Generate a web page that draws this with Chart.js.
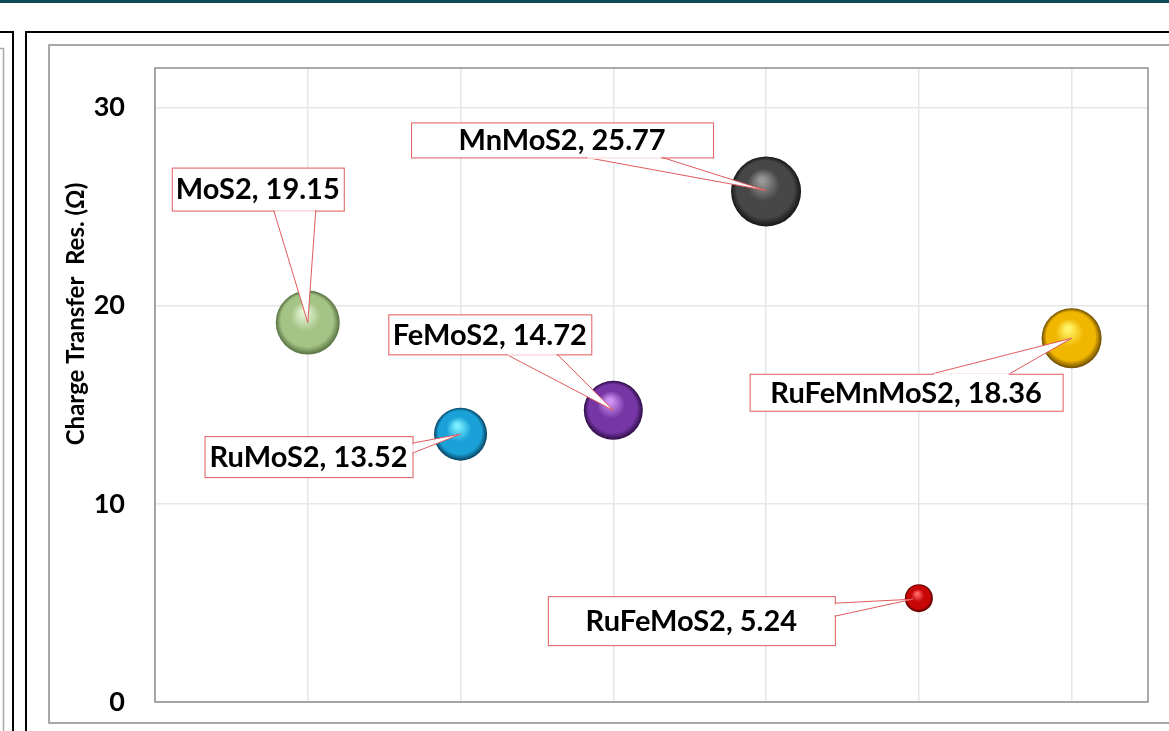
<!DOCTYPE html>
<html><head><meta charset="utf-8">
<script src="https://cdn.jsdelivr.net/npm/chart.js@4.4.1/dist/chart.umd.min.js"></script>
<style>html,body{margin:0;padding:0;background:#fff;overflow:hidden}</style>
</head><body>
<canvas id="c" width="1169" height="731"></canvas>
<script>
// ---------- data ----------
const categories = ['MoS2', 'RuMoS2', 'FeMoS2', 'MnMoS2', 'RuFeMoS2', 'RuFeMnMoS2'];
const xPositions = [1, 2, 3, 4, 5, 6];
const resistance = [19.15, 13.52, 14.72, 25.77, 5.24, 18.36];
const bubbleSizes = [32, 26.5, 29.5, 35, 14, 30];
const yTickValues = [0, 10, 20, 30];
const axisTitle = 'Charge Transfer  Res. (Ω)';

// ---------- styles / layout ----------
const sphereColors = [
  { hi: '#e2f2d2', base: '#a4c486', edge: '#56703f' },
  { hi: '#78eeff', base: '#1aa2d8', edge: '#073f5e' },
  { hi: '#cf94f2', base: '#7736a6', edge: '#2e0d48' },
  { hi: '#969696', base: '#474747', edge: '#161616' },
  { hi: '#ff6464', base: '#c80606', edge: '#4a0000' },
  { hi: '#fff468', base: '#f0b600', edge: '#6a4a00' }
];
// callout boxes relative to the point pixel
const callouts = [
  { dx: -136, dy: -155, w: 172, h: 43, side: 'bottom', b1: -34, b2: 8, tx: 0, ty: 0 },
  { dx: -256, dy: 2, w: 208, h: 41, side: 'right', b1: 9, b2: 19, tx: 0, ty: 0 },
  { dx: -225, dy: -96, w: 203, h: 40, side: 'bottom', b1: -107, b2: -56, tx: 0, ty: 0 },
  { dx: -355, dy: -69, w: 302, h: 35, side: 'bottom', b1: -180, b2: -104, tx: 0, ty: -1 },
  { dx: -371, dy: -2, w: 287, h: 49, side: 'right', b1: 5, b2: 18, tx: -6, ty: 1 },
  { dx: -322, dy: 35.5, w: 313, h: 37, side: 'top', b1: -139, b2: -62, tx: 0, ty: 0 }
];
const FONT = 'Lato, "Open Sans", sans-serif';

function sphereFill(ctx) {
  const chart = ctx.chart;
  const i = ctx.dataIndex;
  const c = sphereColors[i] || sphereColors[0];
  if (ctx.type !== 'data' || !chart.scales.x || !chart.chartArea) return c.base;
  const x = chart.scales.x.getPixelForValue(xPositions[i]);
  const y = chart.scales.y.getPixelForValue(resistance[i]);
  const r = bubbleSizes[i];
  if (!isFinite(x) || !isFinite(y)) return c.base;
  const g = chart.ctx.createRadialGradient(x - r * 0.12, y - r * 0.32, r * 0.08, x, y, r);
  g.addColorStop(0, c.hi);
  g.addColorStop(0.42, c.base);
  g.addColorStop(0.8, c.base);
  g.addColorStop(1, c.edge);
  return g;
}

const framePlugin = {
  id: 'frame',
  beforeDraw(chart) {
    const ctx = chart.ctx;
    ctx.save();
    ctx.fillStyle = '#ffffff';
    ctx.fillRect(0, 0, chart.width, chart.height);
    ctx.fillStyle = '#0f4a57';
    ctx.fillRect(0, 0, chart.width, 3);
    // left neighbouring panel
    ctx.strokeStyle = '#a8a8a8'; ctx.lineWidth = 1.5;
    ctx.beginPath(); ctx.moveTo(0, 48.5); ctx.lineTo(3.5, 48.5); ctx.lineTo(3.5, chart.height); ctx.stroke();
    ctx.strokeStyle = '#000'; ctx.lineWidth = 2;
    ctx.beginPath(); ctx.moveTo(0, 32); ctx.lineTo(13, 32); ctx.lineTo(13, chart.height); ctx.stroke();
    // main frame
    ctx.beginPath(); ctx.moveTo(26, chart.height); ctx.lineTo(26, 32); ctx.lineTo(chart.width, 32); ctx.stroke();
    // inner chart area border
    ctx.strokeStyle = '#8c8c8c'; ctx.lineWidth = 1.5;
    ctx.beginPath(); ctx.moveTo(chart.width, 45); ctx.lineTo(49, 45); ctx.lineTo(49, 723); ctx.lineTo(chart.width, 723); ctx.stroke();
    // axis title
    ctx.translate(76, 314);
    ctx.rotate(-Math.PI / 2);
    ctx.fillStyle = '#000';
    ctx.font = 'bold 24px ' + FONT;
    ctx.textAlign = 'center'; ctx.textBaseline = 'middle';
    ctx.fillText(axisTitle, 0, 0);
    ctx.restore();
  },
  beforeDatasetsDraw(chart) {
    const a = chart.chartArea, ctx = chart.ctx;
    ctx.save();
    ctx.strokeStyle = '#8e8e8e'; ctx.lineWidth = 1.5;
    ctx.strokeRect(a.left, a.top, a.right - a.left, a.bottom - a.top);
    ctx.restore();
  },
  afterDatasetsDraw(chart) {
    const ctx = chart.ctx;
    const meta = chart.getDatasetMeta(0);
    ctx.save();
    meta.data.forEach((el, i) => {
      const c = callouts[i];
      const tipX = el.x + c.tx, tipY = el.y + c.ty;
      const bx = el.x + c.dx, by = el.y + c.dy;
      let p1, p2;
      if (c.side === 'bottom') { p1 = [el.x + c.b1, by + c.h]; p2 = [el.x + c.b2, by + c.h]; }
      else if (c.side === 'top') { p1 = [el.x + c.b1, by]; p2 = [el.x + c.b2, by]; }
      else { p1 = [bx + c.w, el.y + c.b1]; p2 = [bx + c.w, el.y + c.b2]; }
      ctx.fillStyle = '#ffffff';
      ctx.beginPath(); ctx.moveTo(p1[0], p1[1]); ctx.lineTo(tipX, tipY); ctx.lineTo(p2[0], p2[1]); ctx.closePath(); ctx.fill();
      ctx.fillRect(bx, by, c.w, c.h);
      ctx.strokeStyle = '#e05a5c'; ctx.lineWidth = 1;
      ctx.strokeRect(bx + 0.5, by + 0.5, c.w, c.h);
      ctx.beginPath(); ctx.moveTo(p1[0], p1[1]); ctx.lineTo(tipX, tipY); ctx.lineTo(p2[0], p2[1]); ctx.stroke();
      ctx.strokeStyle = '#ffffff'; ctx.lineWidth = 1.4;
      ctx.beginPath();
      if (c.side === 'right') { ctx.moveTo(p1[0] + 0.5, p1[1] + 1); ctx.lineTo(p2[0] + 0.5, p2[1] - 1); }
      else { ctx.moveTo(p1[0] + 1, p1[1] + 0.5); ctx.lineTo(p2[0] - 1, p2[1] + 0.5); }
      ctx.stroke();
      ctx.fillStyle = '#000';
      ctx.font = 'bold 29px ' + FONT;
      ctx.textAlign = 'center'; ctx.textBaseline = 'middle';
      ctx.fillText(categories[i] + ', ' + resistance[i].toFixed(2), bx + c.w / 2, by + c.h / 2 + 1);
    });
    ctx.restore();
  }
};

new Chart(document.getElementById('c'), {
  type: 'bubble',
  data: {
    datasets: [{
      label: 'Charge Transfer Res.',
      data: categories.map((n, i) => ({ x: xPositions[i], y: resistance[i], r: bubbleSizes[i] })),
      backgroundColor: sphereFill,
      borderWidth: 0,
      hoverRadius: 0,
      hoverBorderWidth: 0
    }]
  },
  options: {
    responsive: false,
    animation: false,
    devicePixelRatio: 1,
    layout: { autoPadding: false, padding: { left: 0, top: 68, right: 21, bottom: 29 } },
    plugins: { legend: { display: false }, tooltip: { enabled: false } },
    events: [],
    scales: {
      x: {
        type: 'linear', min: 0, max: 6.5,
        ticks: { display: false, stepSize: 1, includeBounds: false },
        grid: { color: '#e6e6e6', lineWidth: 1.5, drawTicks: false },
        border: { display: false },
        afterFit(s) { s.height = 0; s.paddingLeft = 0; s.paddingRight = 0; }
      },
      y: {
        type: 'linear', min: 0, max: 32,
        afterBuildTicks(s) { s.ticks = yTickValues.map(v => ({ value: v })); },
        ticks: { padding: 30, color: '#000', font: { family: FONT, size: 27, weight: 'bold' } },
        grid: { color: '#e6e6e6', lineWidth: 1.5, drawTicks: false },
        border: { display: false },
        afterFit(s) { s.width = 155; s.paddingTop = 0; s.paddingBottom = 0; }
      }
    }
  },
  plugins: [framePlugin]
});
</script>
</body></html>
